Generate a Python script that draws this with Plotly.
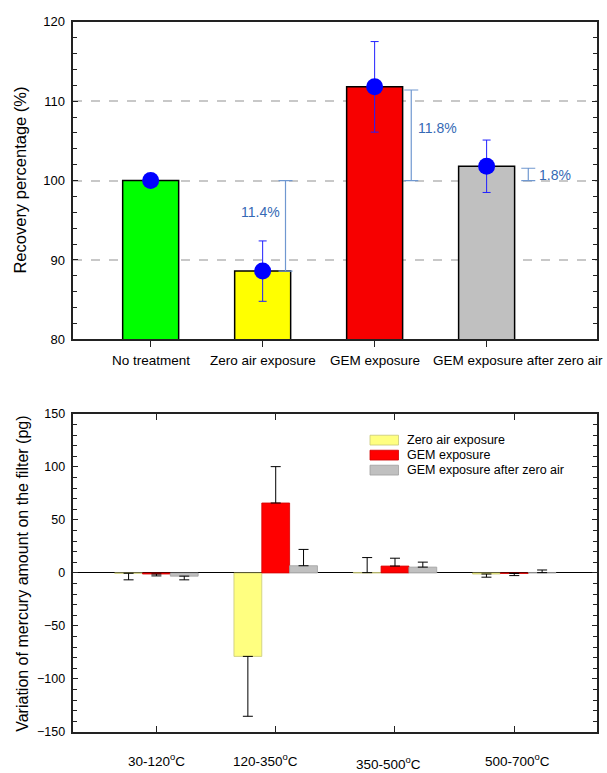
import plotly.graph_objects as go

FONT = "Liberation Sans, Arial, sans-serif"
W, H = 607, 773

# ---------------- top chart data ----------------
treatments = ["No treatment", "Zero air exposure", "GEM exposure", "GEM exposure after zero air"]
recovery = [100.0, 88.6, 111.8, 101.8]
recovery_err = [0.0, 3.8, 5.7, 3.3]
bar_colors = ["#00FF00", "#FFFF00", "#F70000", "#C0C0C0"]
label_xshift = [0, 0, 0, 31]

# difference indicators (relative to 100 %)
diff_cat = [1, 2, 3]
diff_offset = [0.204, 0.327, 0.372]
diff_low = [88.6, 100.0, 100.0]
diff_high = [100.0, 111.4, 101.55]
diff_text = ["11.4%", "11.8%", "1.8%"]
diff_text_x = [0.977, 2.563, 3.611]
diff_text_y = [96.1, 106.6, 100.7]

# ---------------- bottom chart data ----------------
ranges = ["30-120<sup>o</sup>C", "120-350<sup>o</sup>C", "350-500<sup>o</sup>C", "500-700<sup>o</sup>C"]
range_xshift = [0, -10, -6, 3]
range_yshift = [0, 0, -3, 0]
series_names = ["Zero air exposure", "GEM exposure", "GEM exposure after zero air"]
zero_air = [-0.3, -78.7, 0.3, -1.0]
zero_air_plus = [0, 0, 14.2, 0]
zero_air_minus = [6.2, 56.5, 0, 3.0]
gem = [-1.0, 66.0, 6.5, -0.5]
gem_plus = [0, 34.3, 7.4, 0]
gem_minus = [1.8, 0, 0, 2.0]
gem_after = [-3.0, 6.8, 5.5, 0.3]
gem_after_plus = [0, 15.4, 4.7, 2.5]
gem_after_minus = [3.5, 0, 0, 0]
series_fill = ["#FFFF80", "#FF0000", "#C0C0C0"]
series_line = ["#C8C878", "#D00000", "#A0A0A0"]

fig = go.Figure()

xs = list(range(len(treatments)))
fig.add_trace(go.Bar(
    x=xs, y=recovery, width=0.5,
    marker=dict(color=bar_colors, line=dict(color="#000000", width=1.5)),
    xaxis="x", yaxis="y", showlegend=False, hoverinfo="skip"))

fig.add_trace(go.Scatter(
    x=[diff_cat[i] + diff_offset[i] for i in range(3)], y=diff_low,
    mode="markers", marker=dict(size=1, color="rgba(0,0,0,0)"),
    error_y=dict(type="data", symmetric=False,
                 array=[diff_high[i] - diff_low[i] for i in range(3)],
                 arrayminus=[0, 0, 0], color="#7098D0", thickness=1.2, width=7),
    xaxis="x", yaxis="y", showlegend=False, hoverinfo="skip"))

fig.add_trace(go.Scatter(
    x=xs, y=recovery, mode="markers",
    marker=dict(size=17, color="#0000FF"),
    error_y=dict(type="data", array=recovery_err, color="#2020FF", thickness=1, width=4),
    xaxis="x", yaxis="y", showlegend=False, hoverinfo="skip"))

bx = list(range(len(ranges)))
for name, vals, plus, minus, fc, lc in zip(
        series_names,
        [zero_air, gem, gem_after],
        [zero_air_plus, gem_plus, gem_after_plus],
        [zero_air_minus, gem_minus, gem_after_minus],
        series_fill, series_line):
    fig.add_trace(go.Bar(
        x=bx, y=vals, name=name,
        marker=dict(color=fc, line=dict(color=lc, width=0.8)),
        error_y=dict(type="data", symmetric=False, array=plus, arrayminus=minus,
                     color="#000000", thickness=1, width=5),
        xaxis="x2", yaxis="y2", showlegend=False, hoverinfo="skip"))

top_dom = [(H - 339) / H, (H - 15) / H]
bot_dom = [(H - 739.3) / H, (H - 415) / H]
x_dom = [73.4 / W, 596.7 / W]
axis_line = dict(showline=True, linecolor="#222222", linewidth=1.5)

fig.update_layout(
    width=W, height=H,
    margin=dict(l=0, r=0, t=0, b=0, pad=0),
    paper_bgcolor="white", plot_bgcolor="white",
    font=dict(family=FONT, size=13, color="#000000"),
    barmode="group", bargap=0.3, bargroupgap=0,
    xaxis=dict(domain=x_dom, anchor="y", range=[-0.69, 3.983],
               tickvals=xs, showticklabels=False, ticks="outside", ticklen=6,
               tickcolor="#222222", mirror=True, showgrid=False, zeroline=False,
               **axis_line),
    yaxis=dict(domain=top_dom, anchor="x", range=[80, 120], dtick=10,
               ticks="inside", ticklen=5, tickcolor="#222222", mirror="ticks",
               minor=dict(dtick=2, ticks="inside", ticklen=4, tickcolor="#222222", showgrid=False),
               showgrid=True, gridcolor="#C8C8C8", griddash="dash", gridwidth=1.5,
               zeroline=False, tickfont=dict(size=13), ticklabelstandoff=4,
               **axis_line),
    xaxis2=dict(domain=x_dom, anchor="y2", range=[-0.696, 3.691],
                tickvals=bx, showticklabels=False, ticks="inside", ticklen=6,
                tickcolor="#222222", mirror="ticks", showgrid=False, zeroline=False,
                **axis_line),
    yaxis2=dict(domain=bot_dom, anchor="x2", range=[-150, 150], dtick=50,
                ticks="inside", ticklen=5, tickcolor="#222222", mirror="ticks",
                minor=dict(dtick=10, ticks="inside", ticklen=4, tickcolor="#222222", showgrid=False),
                showgrid=False, zeroline=True, zerolinecolor="#000000", zerolinewidth=1.2,
                tickfont=dict(size=12.5), ticklabelstandoff=4,
                **axis_line),
)

ann = []
for i, t in enumerate(treatments):
    ann.append(dict(x=xs[i], y=(H - 360.7) / H, xref="x", yref="paper", text=t,
                    showarrow=False, xanchor="center", yanchor="middle",
                    xshift=label_xshift[i], font=dict(size=13.5)))
for i, t in enumerate(diff_text):
    ann.append(dict(x=diff_text_x[i], y=diff_text_y[i], xref="x", yref="y", text=t,
                    showarrow=False, xanchor="center", yanchor="middle",
                    font=dict(size=14, color="#3569B5")))
for i, t in enumerate(ranges):
    ann.append(dict(x=bx[i], y=(H - 768) / H, xref="x2", yref="paper", text=t,
                    showarrow=False, xanchor="center", yanchor="middle",
                    xshift=range_xshift[i], yshift=range_yshift[i], font=dict(size=13.5)))
ann.append(dict(x=20 / W, y=(H - 177) / H, xref="paper", yref="paper",
                text="Recovery percentage (%)", textangle=-90, showarrow=False,
                xanchor="center", yanchor="middle", font=dict(size=16.5)))
ann.append(dict(x=23 / W, y=(H - 578) / H, xref="paper", yref="paper",
                text="Variation of mercury amount on the filter (pg)", textangle=-90,
                showarrow=False, xanchor="center", yanchor="middle", font=dict(size=16)))

# manual legend
shapes = []
legend_rows = [441.7, 457.0, 472.3]
for name, fc, lc, yc in zip(series_names, series_fill, series_line, legend_rows):
    shapes.append(dict(type="rect", xref="paper", yref="paper",
                       x0=370 / W, x1=398.5 / W, y0=(H - yc - 5) / H, y1=(H - yc + 5) / H,
                       fillcolor=fc, line=dict(color=lc, width=0.8)))
    ann.append(dict(x=405.4 / W, y=(H - yc) / H, xref="paper", yref="paper", text=name,
                    showarrow=False, xanchor="left", yanchor="middle", font=dict(size=12.5)))

fig.update_layout(annotations=ann, shapes=shapes)
fig.write_html("out.html")
